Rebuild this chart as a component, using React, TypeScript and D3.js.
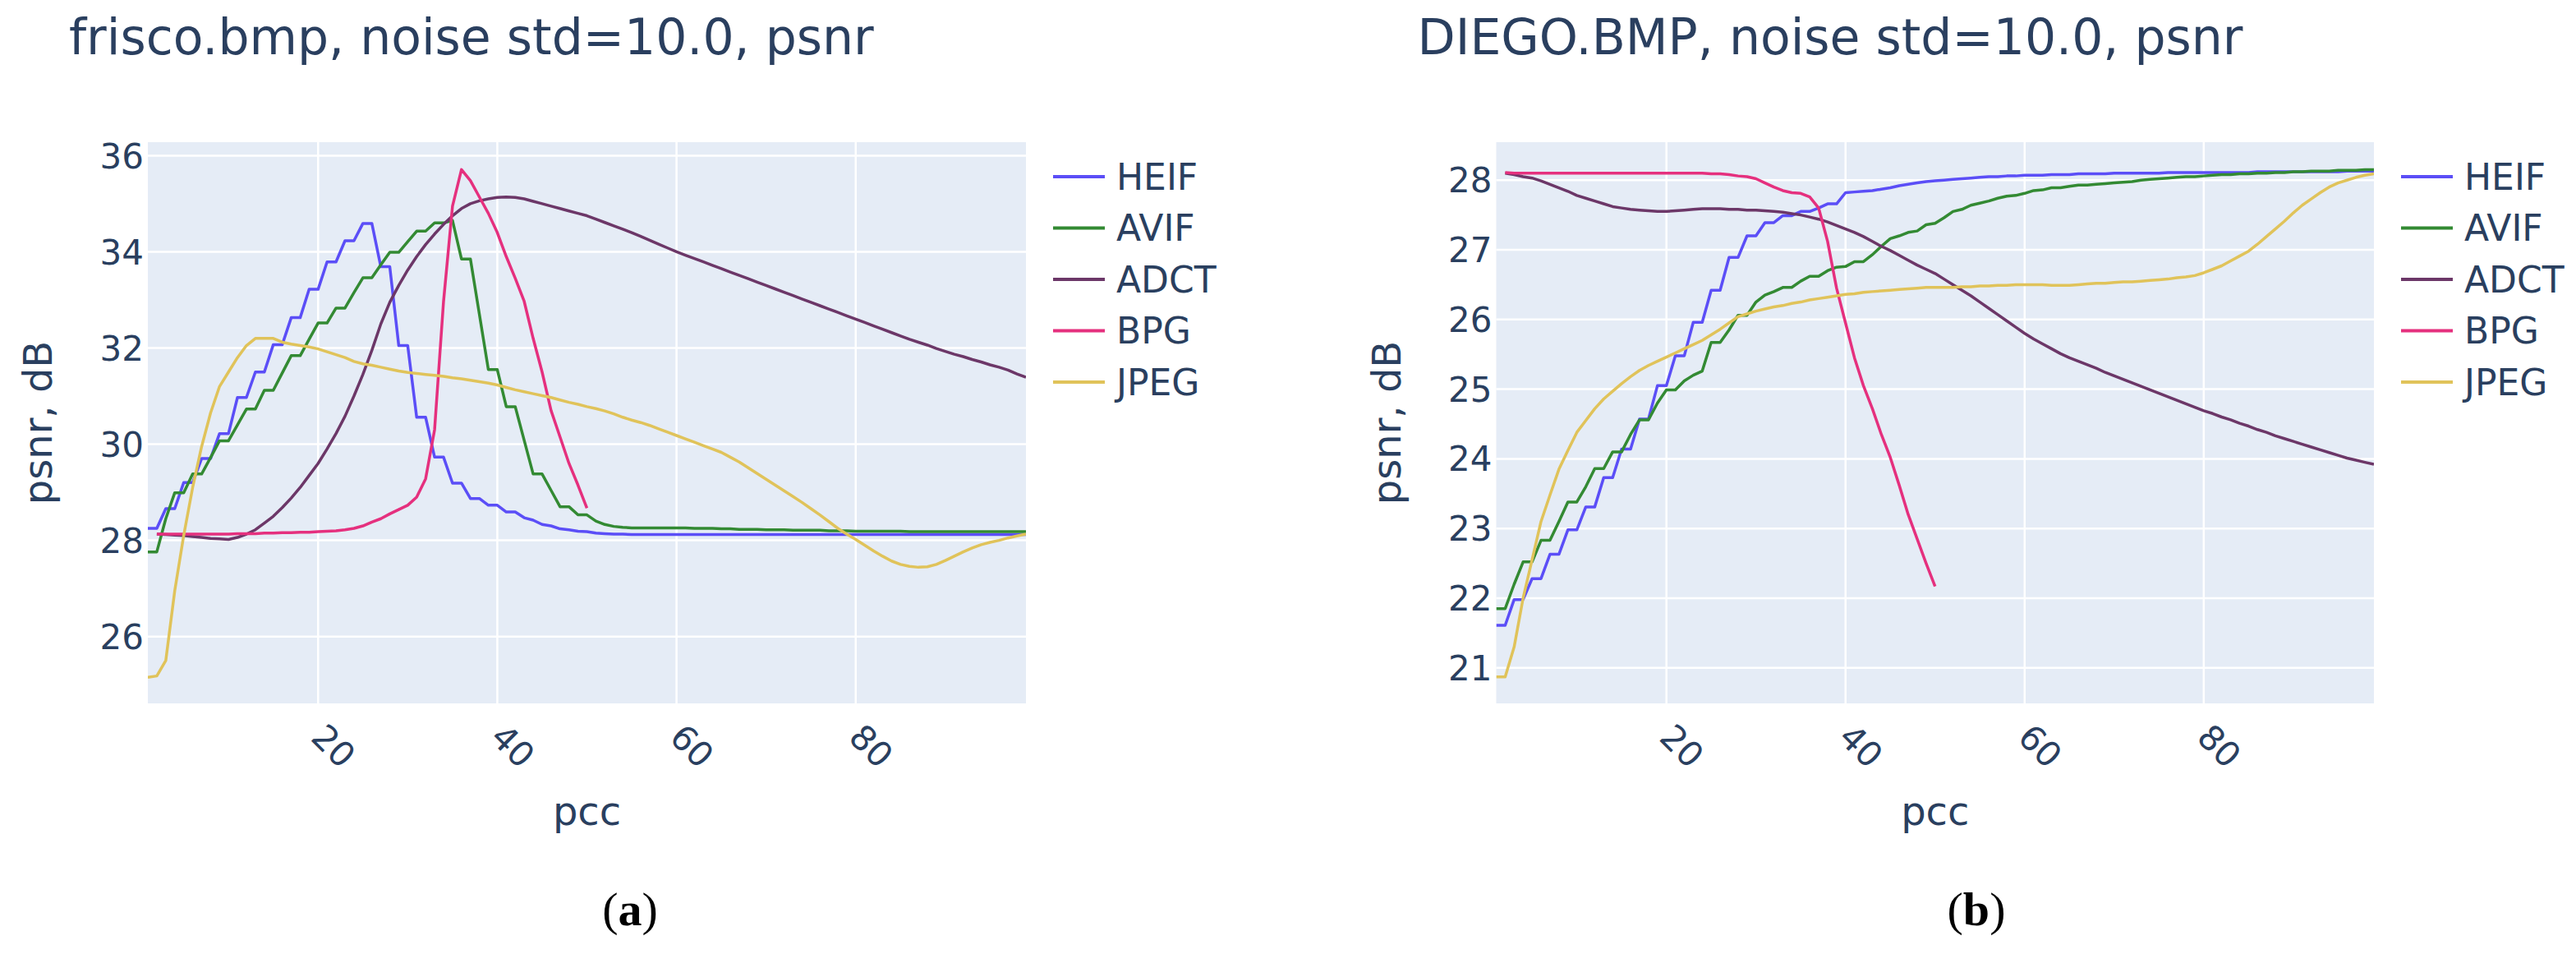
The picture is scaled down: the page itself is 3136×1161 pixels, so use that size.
import React from "react";
import * as d3 from "d3";

// pcc values shared by every trace
const PCC = [
  1, 2, 3, 4, 5, 6, 7, 8, 9, 10, 11, 12, 13, 14, 15, 16, 17, 18, 19, 20,
  21, 22, 23, 24, 25, 26, 27, 28, 29, 30, 31, 32, 33, 34, 35, 36, 37, 38, 39, 40,
  41, 42, 43, 44, 45, 46, 47, 48, 49, 50, 51, 52, 53, 54, 55, 56, 57, 58, 59, 60,
  61, 62, 63, 64, 65, 66, 67, 68, 69, 70, 71, 72, 73, 74, 75, 76, 77, 78, 79, 80,
  81, 82, 83, 84, 85, 86, 87, 88, 89, 90, 91, 92, 93, 94, 95, 96, 97, 98, 99,
];

const CODECS = ["HEIF", "AVIF", "ADCT", "BPG", "JPEG"];
const CODEC_COLORS = ["#5b4ef7", "#338a33", "#6c3768", "#e5307e", "#e0c35a"];

const X_TICKS = [20, 40, 60, 80];

// ---- frisco.bmp ----
const FRISCO_HEIF = [
  28.25, 28.25, 28.66, 28.66, 29.2, 29.2, 29.7, 29.7, 30.22, 30.22,
  30.97, 30.97, 31.5, 31.5, 32.07, 32.07, 32.63, 32.63, 33.22, 33.22,
  33.79, 33.79, 34.23, 34.23, 34.59, 34.59, 33.69, 33.69, 32.05, 32.05,
  30.56, 30.56, 29.73, 29.73, 29.19, 29.19, 28.87, 28.87, 28.73, 28.73,
  28.59, 28.59, 28.47, 28.42, 28.33, 28.3, 28.24, 28.22, 28.19, 28.18,
  28.15, 28.14, 28.13, 28.13, 28.12, 28.12, 28.12, 28.12, 28.12, 28.12,
  28.12, 28.12, 28.12, 28.12, 28.12, 28.12, 28.12, 28.12, 28.12, 28.12,
  28.12, 28.12, 28.12, 28.12, 28.12, 28.12, 28.12, 28.12, 28.12, 28.12,
  28.12, 28.12, 28.12, 28.12, 28.12, 28.12, 28.12, 28.12, 28.12, 28.12,
  28.12, 28.12, 28.12, 28.12, 28.12, 28.12, 28.12, 28.12, 28.12,
];
const FRISCO_AVIF = [
  27.76, 27.76, 28.45, 28.99, 28.99, 29.38, 29.38, 29.72, 30.07, 30.07,
  30.4, 30.73, 30.73, 31.12, 31.12, 31.48, 31.84, 31.84, 32.18, 32.52,
  32.52, 32.83, 32.83, 33.15, 33.46, 33.46, 33.73, 33.99, 33.99, 34.21,
  34.43, 34.43, 34.6, 34.6, 34.65, 33.85, 33.85, 32.7, 31.55, 31.55,
  30.78, 30.78, 30.08, 29.38, 29.38, 29.04, 28.7, 28.7, 28.53, 28.53,
  28.4, 28.33, 28.29, 28.27, 28.26, 28.26, 28.26, 28.26, 28.26, 28.26,
  28.26, 28.25, 28.25, 28.25, 28.24, 28.24, 28.23, 28.23, 28.23, 28.22,
  28.22, 28.22, 28.21, 28.21, 28.21, 28.21, 28.2, 28.2, 28.2, 28.19,
  28.19, 28.19, 28.19, 28.19, 28.19, 28.18, 28.18, 28.18, 28.18, 28.18,
  28.18, 28.18, 28.18, 28.18, 28.18, 28.18, 28.18, 28.18, 28.18,
];
const FRISCO_ADCT = [
  null, 28.13, 28.12, 28.11, 28.1, 28.08, 28.06, 28.04, 28.03, 28.02,
  28.06, 28.13, 28.22, 28.36, 28.5, 28.68, 28.88, 29.1, 29.35, 29.6,
  29.9, 30.22, 30.58, 31.0, 31.45, 31.95, 32.5, 32.95, 33.3, 33.62,
  33.9, 34.15, 34.37, 34.57, 34.75, 34.9, 35.0, 35.06, 35.1, 35.13,
  35.14, 35.13, 35.1, 35.05, 35.0, 34.95, 34.9, 34.85, 34.8, 34.75,
  34.68, 34.61, 34.54, 34.47, 34.4, 34.32, 34.24, 34.16, 34.08, 34.0,
  33.93, 33.86, 33.79, 33.72, 33.65, 33.58, 33.51, 33.44, 33.37, 33.3,
  33.23, 33.16, 33.09, 33.02, 32.95, 32.88, 32.81, 32.74, 32.67, 32.6,
  32.53, 32.46, 32.39, 32.32, 32.25, 32.18, 32.12, 32.06, 31.99, 31.93,
  31.87, 31.82, 31.76, 31.71, 31.65, 31.6, 31.54, 31.46, 31.39,
];
const FRISCO_BPG = [
  null, 28.13, 28.13, 28.13, 28.13, 28.13, 28.13, 28.13, 28.13, 28.13,
  28.14, 28.14, 28.14, 28.15, 28.15, 28.16, 28.16, 28.17, 28.17, 28.18,
  28.19, 28.2, 28.22, 28.25, 28.3, 28.38, 28.45, 28.55, 28.64, 28.73,
  28.9, 29.28, 30.3, 32.97, 34.95, 35.71, 35.48, 35.14, 34.8, 34.4,
  33.9, 33.45, 32.97, 32.2, 31.5, 30.7, 30.15, 29.6, 29.15, 28.67,
];
const FRISCO_JPEG = [
  25.15, 25.18, 25.5, 26.95, 28.1, 29.1, 29.95, 30.65, 31.2, 31.5,
  31.8, 32.05, 32.2, 32.2, 32.2, 32.12, 32.08, 32.05, 32.02, 31.98,
  31.92, 31.86, 31.8, 31.72, 31.67, 31.64, 31.6, 31.56, 31.52, 31.49,
  31.47, 31.45, 31.43, 31.41, 31.38, 31.36, 31.33, 31.3, 31.27, 31.23,
  31.18, 31.13, 31.09, 31.05, 31.01, 30.97, 30.92, 30.87, 30.83, 30.78,
  30.74, 30.69, 30.63, 30.56, 30.5, 30.45, 30.39, 30.32, 30.25, 30.18,
  30.11, 30.04, 29.97, 29.9, 29.83, 29.73, 29.63, 29.51, 29.39, 29.27,
  29.15, 29.03, 28.91, 28.79, 28.66, 28.53, 28.39, 28.25, 28.13, 28.02,
  27.9, 27.78, 27.67, 27.57, 27.5, 27.46, 27.44, 27.45, 27.5, 27.58,
  27.67, 27.76, 27.84, 27.91, 27.96, 28.0, 28.05, 28.09, 28.13,
];

// ---- DIEGO.BMP ----
const DIEGO_HEIF = [
  21.61, 21.61, 21.98, 21.98, 22.28, 22.28, 22.63, 22.63, 22.98, 22.98,
  23.31, 23.31, 23.73, 23.73, 24.14, 24.14, 24.57, 24.57, 25.05, 25.05,
  25.48, 25.48, 25.96, 25.96, 26.42, 26.42, 26.89, 26.89, 27.2, 27.2,
  27.39, 27.39, 27.49, 27.49, 27.55, 27.55, 27.6, 27.66, 27.66, 27.82,
  27.83, 27.84, 27.85, 27.87, 27.89, 27.92, 27.94, 27.96, 27.98, 27.99,
  28.0, 28.01, 28.02, 28.03, 28.04, 28.05, 28.05, 28.06, 28.06, 28.07,
  28.07, 28.07, 28.08, 28.08, 28.08, 28.09, 28.09, 28.09, 28.09, 28.1,
  28.1, 28.1, 28.1, 28.1, 28.1, 28.11, 28.11, 28.11, 28.11, 28.11,
  28.11, 28.11, 28.11, 28.11, 28.11, 28.12, 28.12, 28.12, 28.12, 28.12,
  28.12, 28.12, 28.12, 28.12, 28.12, 28.13, 28.13, 28.13, 28.13,
];
const DIEGO_AVIF = [
  21.85, 21.85, 22.2, 22.52, 22.52, 22.83, 22.83, 23.1, 23.38, 23.38,
  23.6, 23.86, 23.86, 24.1, 24.1, 24.35, 24.56, 24.56, 24.8, 24.99,
  24.99, 25.12, 25.2, 25.26, 25.67, 25.67, 25.85, 26.06, 26.06, 26.25,
  26.35, 26.4, 26.46, 26.46, 26.55, 26.62, 26.62, 26.7, 26.75, 26.76,
  26.83, 26.83, 26.93, 27.05, 27.16, 27.2, 27.25, 27.27, 27.36, 27.38,
  27.46, 27.55, 27.58, 27.64, 27.67, 27.7, 27.74, 27.77, 27.78, 27.81,
  27.85, 27.86, 27.89, 27.89, 27.91, 27.93, 27.93, 27.94, 27.95, 27.96,
  27.97, 27.98, 28.0, 28.01, 28.02, 28.03, 28.04, 28.05, 28.05, 28.06,
  28.07, 28.08, 28.08, 28.09, 28.09, 28.1, 28.1, 28.11, 28.11, 28.12,
  28.12, 28.13, 28.13, 28.13, 28.14, 28.14, 28.14, 28.15, 28.15,
];
const DIEGO_ADCT = [
  null, 28.1, 28.08, 28.05, 28.03, 27.99, 27.94, 27.89, 27.84, 27.78,
  27.74, 27.7, 27.66, 27.62, 27.6, 27.58, 27.57, 27.56, 27.55, 27.55,
  27.56, 27.57, 27.58, 27.59, 27.59, 27.59, 27.58, 27.58, 27.57, 27.57,
  27.56, 27.55, 27.54, 27.52, 27.5, 27.47, 27.44, 27.4, 27.35, 27.3,
  27.25, 27.19, 27.12, 27.05, 26.99, 26.92, 26.85, 26.78, 26.72, 26.66,
  26.58, 26.5, 26.42, 26.34, 26.25, 26.16, 26.07, 25.98, 25.89, 25.8,
  25.72, 25.65, 25.58, 25.51, 25.45, 25.4, 25.35, 25.3, 25.24, 25.19,
  25.14, 25.09, 25.04, 24.99, 24.94, 24.89, 24.84, 24.79, 24.74, 24.69,
  24.65, 24.6, 24.56, 24.51, 24.47, 24.42, 24.38, 24.33, 24.29, 24.25,
  24.21, 24.17, 24.13, 24.09, 24.05, 24.01, 23.98, 23.95, 23.92,
];
const DIEGO_BPG = [
  null, 28.11, 28.1, 28.1, 28.1, 28.1, 28.1, 28.1, 28.1, 28.1,
  28.1, 28.1, 28.1, 28.1, 28.1, 28.1, 28.1, 28.1, 28.1, 28.1,
  28.1, 28.1, 28.1, 28.1, 28.09, 28.09, 28.08, 28.06, 28.05, 28.02,
  27.96, 27.9, 27.85, 27.82, 27.81, 27.76, 27.6, 27.12, 26.45, 25.95,
  25.45, 25.05, 24.72, 24.35, 24.02, 23.62, 23.2, 22.85, 22.5, 22.17,
];
const DIEGO_JPEG = [
  20.87, 20.87, 21.3, 22.0, 22.55, 23.1, 23.48, 23.85, 24.12, 24.38,
  24.55, 24.72, 24.86, 24.97, 25.08, 25.18, 25.27, 25.34, 25.4, 25.46,
  25.52, 25.58, 25.64, 25.7, 25.78, 25.86, 25.95, 26.04, 26.08, 26.12,
  26.15, 26.18, 26.2, 26.23, 26.25, 26.28, 26.3, 26.32, 26.34, 26.36,
  26.37, 26.39, 26.4, 26.41, 26.42, 26.43, 26.44, 26.45, 26.46, 26.46,
  26.46, 26.46, 26.47, 26.47, 26.48, 26.48, 26.49, 26.49, 26.5, 26.5,
  26.5, 26.5, 26.49, 26.49, 26.49, 26.5, 26.51, 26.52, 26.52, 26.53,
  26.54, 26.54, 26.55, 26.56, 26.57, 26.58, 26.6, 26.61, 26.63, 26.67,
  26.72, 26.77, 26.84, 26.91, 26.98, 27.08, 27.19, 27.3, 27.41, 27.53,
  27.64, 27.73, 27.82, 27.9, 27.96, 28.0, 28.04, 28.07, 28.09,
];

const FRISCO_Y_TICKS = [26, 28, 30, 32, 34, 36];
const DIEGO_Y_TICKS = [21, 22, 23, 24, 25, 26, 27, 28];

const FONT = "Verdana, 'DejaVu Sans', sans-serif";
const INK = "#2a3f5f";

type PanelProps = {
  id: string;
  title: string;
  caption: string;
  left: number;
  right: number;
  yDomain: [number, number];
  yTicks: number[];
  series: (number | null)[][];
  captionX: number;
};

const TOP = 173;
const BOTTOM = 856;

const Panel = ({ id, title, caption, left, right, yDomain, yTicks, series, captionX }: PanelProps) => {
  const x = d3.scaleLinear().domain([1, 99]).range([left, right]);
  const y = d3.scaleLinear().domain(yDomain).range([BOTTOM, TOP]);

  const line = d3
    .line<[number, number | null]>()
    .defined((d) => d[1] != null)
    .x((d) => x(d[0]))
    .y((d) => y(d[1] as number));

  const legendX = right + 33;
  const midX = (left + right) / 2;

  return (
    <g>
      <clipPath id={`clip-${id}`}>
        <rect x={left} y={TOP} width={right - left} height={BOTTOM - TOP} />
      </clipPath>

      <text x={left - 96} y={66} fontSize={60} fill={INK} fontFamily={FONT}>
        {title}
      </text>

      <rect x={left} y={TOP} width={right - left} height={BOTTOM - TOP} fill="#E5ECF6" />

      {X_TICKS.map((t) => (
        <line key={"gx" + t} x1={x(t)} x2={x(t)} y1={TOP} y2={BOTTOM} stroke="#fff" strokeWidth={2.5} />
      ))}
      {yTicks.map((t) => (
        <line key={"gy" + t} x1={left} x2={right} y1={y(t)} y2={y(t)} stroke="#fff" strokeWidth={2.5} />
      ))}

      <g clipPath={`url(#clip-${id})`}>
        {series.map((vals, i) => (
          <path
            key={CODECS[i]}
            d={line(vals.map((v, j) => [PCC[j], v] as [number, number | null])) || ""}
            fill="none"
            stroke={CODEC_COLORS[i]}
            strokeWidth={3.5}
            strokeLinejoin="round"
          />
        ))}
      </g>

      {yTicks.map((t) => (
        <text
          key={"ty" + t}
          x={left - 5}
          y={y(t)}
          dy="0.36em"
          textAnchor="end"
          fontSize={42}
          fill={INK}
          fontFamily={FONT}
        >
          {t}
        </text>
      ))}

      {X_TICKS.map((t) => (
        <text
          key={"tx" + t}
          transform={`translate(${x(t)},${BOTTOM + 33}) rotate(45)`}
          dy="0.35em"
          fontSize={42}
          fill={INK}
          fontFamily={FONT}
        >
          {t}
        </text>
      ))}

      <text x={midX} y={1004} textAnchor="middle" fontSize={48} fill={INK} fontFamily={FONT}>
        pcc
      </text>
      <text
        transform={`translate(${left - 117},${(TOP + BOTTOM) / 2}) rotate(-90)`}
        textAnchor="middle"
        fontSize={48}
        fill={INK}
        fontFamily={FONT}
      >
        psnr, dB
      </text>

      {CODECS.map((name, i) => {
        const ly = 215 + i * 62.5;
        return (
          <g key={"lg" + name}>
            <line x1={legendX} x2={legendX + 63} y1={ly} y2={ly} stroke={CODEC_COLORS[i]} strokeWidth={4} />
            <text x={legendX + 77} y={ly} dy="0.36em" fontSize={44} fill={INK} fontFamily={FONT}>
              {name}
            </text>
          </g>
        );
      })}

      <text
        x={captionX}
        y={1126}
        textAnchor="middle"
        fontSize={58}
        fill="#000"
        fontFamily="'Liberation Serif', 'Times New Roman', serif"
      >
        (<tspan fontWeight="bold">{caption}</tspan>)
      </text>
    </g>
  );
};

export default function App() {
  return (
    <svg
      width={3136}
      height={1161}
      style={{ position: "absolute", left: 0, top: 0, background: "#fff" }}
    >
      <rect width={3136} height={1161} fill="#fff" />
      <Panel
        id="a"
        title="frisco.bmp, noise std=10.0, psnr"
        caption="a"
        left={180}
        right={1249}
        yDomain={[24.61, 36.28]}
        yTicks={FRISCO_Y_TICKS}
        series={[FRISCO_HEIF, FRISCO_AVIF, FRISCO_ADCT, FRISCO_BPG, FRISCO_JPEG]}
        captionX={767}
      />
      <Panel
        id="b"
        title="DIEGO.BMP, noise std=10.0, psnr"
        caption="b"
        left={1821.5}
        right={2890}
        yDomain={[20.49, 28.545]}
        yTicks={DIEGO_Y_TICKS}
        series={[DIEGO_HEIF, DIEGO_AVIF, DIEGO_ADCT, DIEGO_BPG, DIEGO_JPEG]}
        captionX={2406}
      />
    </svg>
  );
}
